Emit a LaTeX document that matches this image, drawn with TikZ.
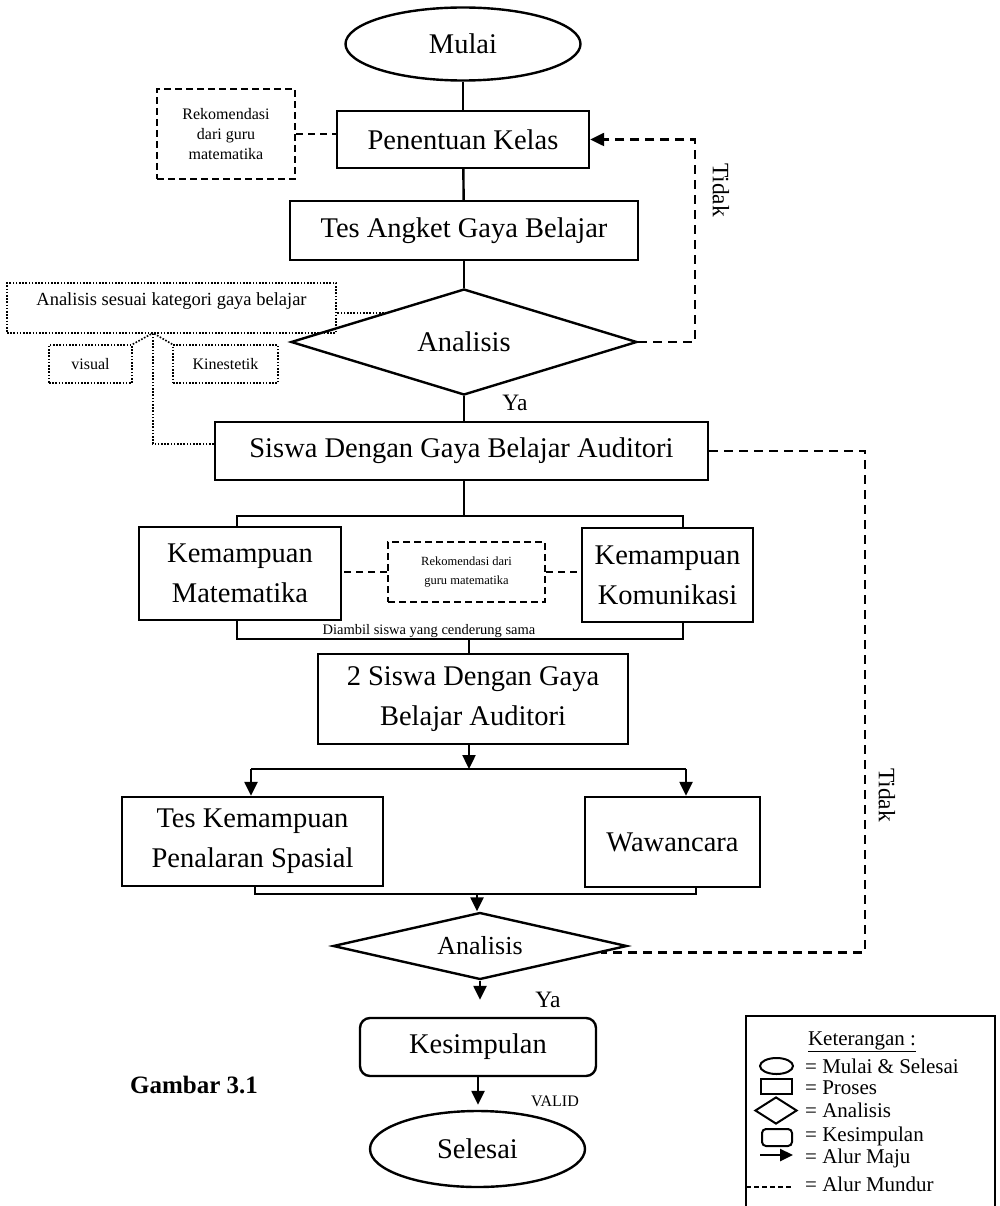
\documentclass[tikz,border=0pt]{standalone}
\usepackage{fontspec}
\setmainfont{Liberation Serif}
\usepackage{tikz}
\usetikzlibrary{shapes.geometric}
\usetikzlibrary{arrows.meta}
\tikzset{>={Triangle[width=13pt,length=14pt]}}

\newcommand\hurufbesar{\fontsize{28.5}{40}\selectfont}
\newcommand\hurufanalisis{\fontsize{26}{30}\selectfont}
\newcommand\hurufcatatan{\fontsize{16}{20}\selectfont}
\newcommand\hurufkecil{\fontsize{12.5}{19}\selectfont}
\newcommand\hurufkat{\fontsize{18.5}{22}\selectfont}
\newcommand\hurufdiambil{\fontsize{14.5}{17}\selectfont}
\newcommand\hurufket{\fontsize{21}{24}\selectfont}
\newcommand\hurufsisi{\fontsize{23.5}{27}\selectfont}

\tikzset{
  mulaiselesai/.style={ellipse, draw, line width=2.4pt, inner sep=0pt, font=\hurufbesar},
  proses/.style={rectangle, draw, line width=2.4pt, inner sep=0pt, align=center, font=\hurufbesar},
  kesimpulan/.style={proses, rounded corners=10pt},
  analisis/.style={diamond, draw, line width=2.4pt, inner sep=0pt, aspect=3, font=\hurufbesar},
  catatan/.style={rectangle, draw, line width=2pt, dash pattern=on 7pt off 4pt, inner sep=0pt, align=center},
  titik/.style={rectangle, draw, line width=1.6pt, dash pattern=on 1.6pt off 1.6pt, inner sep=0pt},
  garis/.style={line width=2.4pt},
  maju/.style={garis, ->},
  mundur/.style={line width=2.4pt, dash pattern=on 9pt off 6pt},
  titikgaris/.style={line width=1.6pt, dash pattern=on 1.6pt off 1.6pt},
  ikon/.style={draw, line width=2pt, inner sep=0pt}
}

\begin{document}
\begin{tikzpicture}[x=1pt,y=-1pt]

  \useasboundingbox (0,0) rectangle (999,1206);

  %% alur utama
  \node[mulaiselesai, minimum width=235pt, minimum height=73pt] (mulai) at (463,44) {Mulai};
  \node[proses, minimum width=252pt, minimum height=57pt] (kelas) at (463,139.5) {Penentuan Kelas};
  \node[proses, minimum width=348pt, minimum height=59pt] (angket) at (464,230.5) {Tes Angket Gaya Belajar};
  \node[analisis, minimum width=346pt, minimum height=106pt] (an1) at (464,342) {Analisis};
  \node[proses, minimum width=493pt, minimum height=58pt] (siswa) at (461.5,451)
  {Siswa Dengan Gaya Belajar Auditori};

  \node[proses, minimum width=202pt, minimum height=93pt] (mat) at (240,573.5) {Kemampuan\\Matematika};
  \node[proses, minimum width=171pt, minimum height=94pt] (kom) at (667.5,575) {Kemampuan\\Komunikasi};
  \node[catatan, font=\hurufkecil, minimum width=157pt, minimum height=60pt] (rek2) at (466.5,572)
  {Rekomendasi dari\\guru matematika};

  \node[proses, minimum width=310pt, minimum height=90pt] (siswa2) at (473,699)
  {2 Siswa Dengan Gaya\\Belajar Auditori};
  \node[proses, minimum width=261pt, minimum height=89pt] (tes) at (252.5,841.5)
  {Tes Kemampuan\\Penalaran Spasial};
  \node[proses, minimum width=175pt, minimum height=90pt] (waw) at (672.5,842) {Wawancara};
  \node[analisis, font=\hurufanalisis, minimum width=294pt, minimum height=67pt] (an2) at (480,946) {Analisis};
  \node[kesimpulan, minimum width=236pt, minimum height=58pt] (kes) at (478,1047) {Kesimpulan};
  \node[mulaiselesai, minimum width=215pt, minimum height=76pt] (selesai) at (477.5,1149) {Selesai};

  %% catatan samping
  \node[catatan, font=\hurufcatatan, minimum width=138pt, minimum height=90pt] (rek1) at (226,134)
  {Rekomendasi\\dari guru\\matematika};
  \node[titik, font=\hurufkat, text depth=18pt, minimum width=329pt, minimum height=50pt] (kat) at (171.5,308)
  {Analisis sesuai kategori gaya belajar};
  \node[titik, font=\hurufcatatan, minimum width=83pt, minimum height=38pt] (visual) at (90.5,364) {visual};
  \node[titik, font=\hurufcatatan, minimum width=105pt, minimum height=38pt] (kines) at (225.5,364) {Kinestetik};

  %% garis alur
  \draw[garis] (mulai) -- (kelas);
  \draw[garis] (kelas) -- (angket);
  \draw[garis] (angket) -- (an1);
  \draw[garis] (an1) -- (an1.south |- siswa.north);

  \coordinate (ka) at (237,516);
  \coordinate (kb) at (683,516);
  \draw[garis] (siswa.south -| an1.south) -- (ka -| an1.south);
  \draw[garis] (ka |- mat.north) -- (ka) -- (kb) -- (kb |- kom.north);

  \coordinate (kc) at (237,639);
  \coordinate (kd) at (683,639);
  \coordinate (ke) at (469,639);
  \draw[garis] (kc |- mat.south) -- (kc) -- (kd) -- (kd |- kom.south);
  \draw[garis] (ke) -- (ke |- siswa2.north);
  \node[font=\hurufdiambil] (diambil) at (429,631) {Diambil siswa yang cenderung sama};

  \coordinate (kf) at (469,769);
  \coordinate (kg) at (251,769);
  \coordinate (kh) at (686,769);
  \draw[maju] (kf |- siswa2.south) -- (kf);
  \draw[garis] (kg) -- (kh);
  \draw[maju] (kg) -- (kg |- tes.north);
  \draw[maju] (kh) -- (kh |- waw.north);

  \coordinate (ki) at (255,894);
  \coordinate (kj) at (696,894);
  \coordinate (kk) at (477,894);
  \draw[garis] (ki |- tes.south) -- (ki) -- (kj) -- (kj |- waw.south);
  \draw[maju] (kk) -- (kk |- an2.north);

  \draw[maju, shorten >=17pt] (an2.south) -- (an2.south |- kes.north);
  \draw[maju, shorten >=5pt] (kes.south) -- (kes.south |- selesai.north);

  %% alur mundur
  \coordinate (rt) at (695,342);
  \draw[mundur, ->] (an1.east) -- (rt) |- (kelas.east); %% an1 -> kelas
  \coordinate (rb) at (865,451);
  \draw[mundur] (siswa.east) -- (rb) |- (an2.-3); %% siswa -> an2

  \draw[mundur, dash pattern=on 7pt off 5pt] (rek1.east) -- (rek1.east -| kelas.west);
  \draw[mundur, dash pattern=on 7pt off 5pt] (rek2.west) -- (rek2.west -| mat.east);
  \draw[mundur, dash pattern=on 7pt off 5pt] (rek2.east) -- (rek2.east -| kom.west);

  %% garis titik
  \coordinate (kp) at (153,333);
  \draw[titikgaris] (an1.160) -- (an1.160 -| kat.east);
  \draw[titikgaris] (visual.north east) -- (kp);
  \draw[titikgaris] (kines.north west) -- (kp);
  \draw[titikgaris] ([yshift=7pt]siswa.west) -| (kp);

  %% label
  \node[font=\hurufsisi] (ya1) at (515,403) {Ya};
  \node[font=\hurufsisi] (ya2) at (548,1000) {Ya};
  \node[font=\hurufsisi, rotate=-90] (tidak1) at (721,190) {Tidak};
  \node[font=\hurufsisi, rotate=-90] (tidak2) at (887,795) {Tidak};
  \node[font=\hurufcatatan] (valid) at (555,1101) {VALID};
  \node[font=\fontsize{25}{30}\selectfont\bfseries] (gambar) at (194,1085) {Gambar 3.1};

  %% keterangan
  \node[draw, line width=2.4pt, minimum width=249pt, minimum height=210pt, anchor=north west] (ket) at (745,1015) {};
  \node[font=\hurufket] (judulket) at (862,1042) {\underline{Keterangan :}};
  \node[ikon, ellipse, minimum width=33pt, minimum height=16pt] (ikon1) at (776.5,1066) {};
  \node[ikon, minimum width=31pt, minimum height=15pt] (ikon2) at (776.5,1086.5) {};
  \node[ikon, diamond, minimum width=42pt, minimum height=27pt] (ikon3) at (776,1110.5) {};
  \node[ikon, rounded corners=4pt, minimum width=30pt, minimum height=17pt] (ikon4) at (777,1137.5) {};
  \coordinate (ika) at (760,1155);
  \coordinate (ikb) at (793,1155);
  \draw[garis, -{Triangle[width=12pt,length=13pt]}] (ika) -- (ikb);
  \coordinate (ikc) at (746,1187);
  \coordinate (ikd) at (792,1187);
  \draw[line width=1.6pt, dash pattern=on 5pt off 3pt] (ikc) -- (ikd);
  \foreach \teks/\y/\i in {= Mulai \& Selesai/1066/1, = Proses/1088/2, = Analisis/1110/3,
    = Kesimpulan/1136/4, = Alur Maju/1158/5, = Alur Mundur/1184/6}
  \node[font=\hurufket, anchor=west, inner sep=0pt] (teksket\i) at (805,\y) {\teks};

\end{tikzpicture}
\end{document}
